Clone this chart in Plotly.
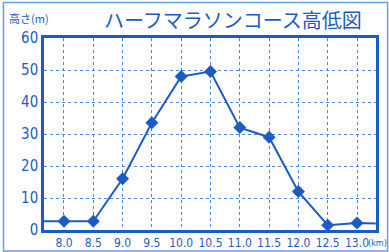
import plotly.graph_objects as go

distance_km = [7.66, 8.0, 8.5, 9.0, 9.5, 10.0, 10.5, 11.0, 11.5, 12.0, 12.5, 13.0, 13.32]
height_m = [2.7, 2.7, 2.7, 16, 33.5, 48, 49.5, 32, 29, 12, 1.5, 2.2, 2.0]
marker_km = [8.0, 8.5, 9.0, 9.5, 10.0, 10.5, 11.0, 11.5, 12.0, 12.5, 13.0]
marker_m = [2.7, 2.7, 16, 33.5, 48, 49.5, 32, 29, 12, 1.5, 2.2]
x_ticks = [8.0, 8.5, 9.0, 9.5, 10.0, 10.5, 11.0, 11.5, 12.0, 12.5, 13.0]
x_tick_labels = ["8.0", "8.5", "9.0", "9.5", "10.0", "10.5", "11.0", "11.5", "12.0", "12.5", "13.0"]
y_ticks = [0, 10, 20, 30, 40, 50, 60]

BLUE = "#1b5cc4"
GRID = "#4a86de"
NUM_FONT = "DejaVu Sans Condensed, Liberation Sans Narrow, sans-serif"
JP_FONT = "Noto Sans CJK JP, sans-serif"

fig = go.Figure()
fig.add_trace(go.Scatter(x=distance_km, y=height_m, mode="lines",
                         line=dict(color=BLUE, width=2), hoverinfo="skip"))
fig.add_trace(go.Scatter(x=marker_km, y=marker_m, mode="markers",
                         marker=dict(symbol="diamond", size=10, color=BLUE)))

fig.update_layout(
    width=389, height=252,
    margin=dict(l=44, r=13, t=38, b=22),
    paper_bgcolor="white", plot_bgcolor="white",
    showlegend=False,
    xaxis=dict(range=[7.659, 13.324], tickvals=x_ticks, ticktext=x_tick_labels,
               showgrid=True, gridcolor=GRID, gridwidth=1, griddash="dot",
               zeroline=False, showline=True, linecolor=BLUE, linewidth=2.5, mirror=True,
               ticks="", tickangle=0, automargin=False,
               tickfont=dict(family=NUM_FONT, size=12, color=BLUE)),
    yaxis=dict(range=[0, 60], tickvals=y_ticks,
               showgrid=True, gridcolor=GRID, gridwidth=1, griddash="dot",
               zeroline=False, showline=True, linecolor=BLUE, linewidth=2.5, mirror=True,
               ticks="", automargin=False,
               tickfont=dict(family=NUM_FONT, size=15, color=BLUE)),
)

fig.add_annotation(text="ハーフマラソンコース高低図", xref="paper", yref="paper",
                   x=0.57, y=1.0, yshift=19, xanchor="center", yanchor="middle",
                   showarrow=False, font=dict(family=JP_FONT, size=20, color=BLUE))
fig.add_annotation(text="高さ(m)", xref="paper", yref="paper",
                   x=-0.11, y=1.0, yshift=20, xanchor="left", yanchor="middle",
                   showarrow=False, font=dict(family=JP_FONT, size=11, color=BLUE))
fig.add_annotation(text="(km)", xref="paper", yref="paper",
                   x=1.0, y=0, xshift=12, yshift=-13, xanchor="right", yanchor="middle",
                   showarrow=False, borderpad=0, font=dict(family=NUM_FONT, size=9, color=BLUE))

fig.add_shape(type="rect", xref="paper", yref="paper",
              x0=-0.122, x1=1.035, y0=-0.11, y1=1.185,
              line=dict(color="#6a9be6", width=1.5), fillcolor="rgba(0,0,0,0)")

fig.write_html("out.html", config={"displayModeBar": False},
               post_script="document.body.style.margin='0';document.body.style.overflow='hidden';")
